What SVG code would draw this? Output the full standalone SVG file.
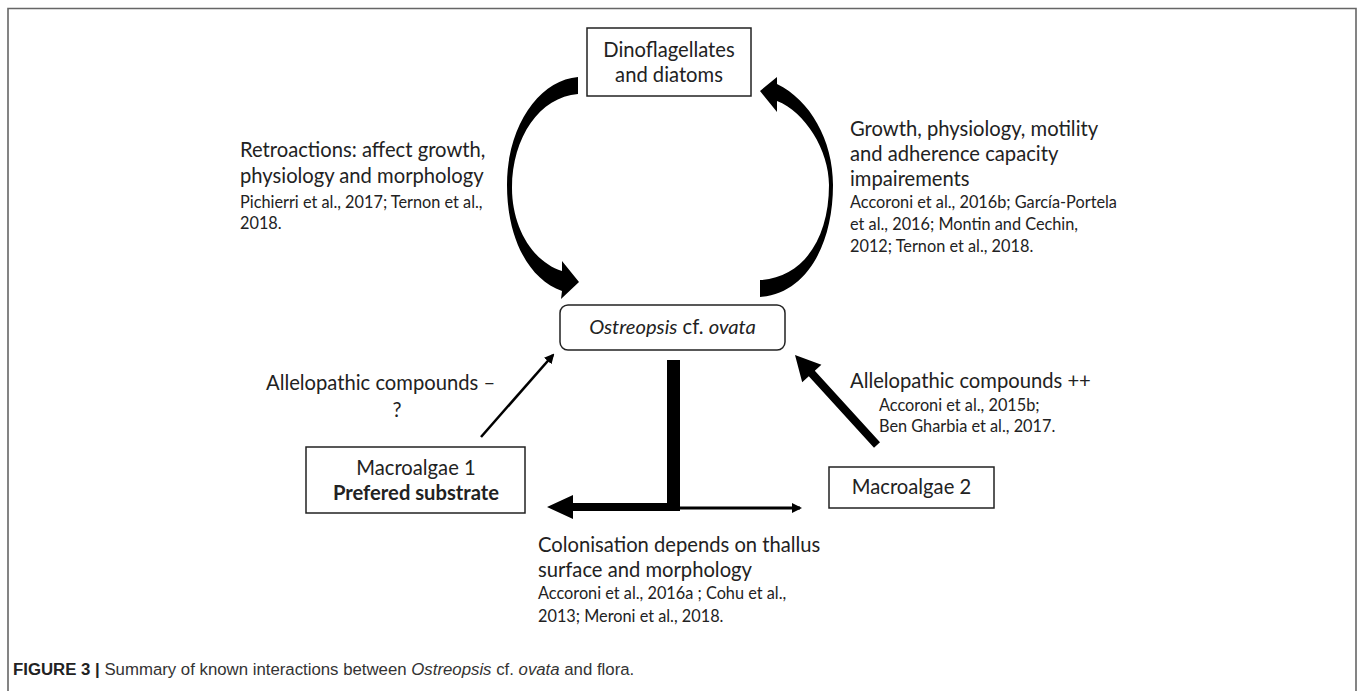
<svg xmlns="http://www.w3.org/2000/svg" width="1358" height="691" viewBox="0 0 1358 691">
<style>
.t{font-family:Lato,"Liberation Sans",sans-serif;font-size:20.2px;fill:#222}
.c{font-family:Lato,"Liberation Sans",sans-serif;font-size:16.3px;fill:#222}
.box{fill:#fff;stroke:#222;stroke-width:1.5}
.cap{font-family:"Liberation Sans",Arial,sans-serif;font-size:16.8px;fill:#333}
.blk{fill:#000;stroke:none}
</style>
<defs>
<marker id="ah" markerWidth="10" markerHeight="10" refX="8" refY="5" orient="auto" markerUnits="userSpaceOnUse" viewBox="0 0 10 10">
<path d="M0,0 L10,5 L0,10 Z" fill="#000"/>
</marker>
</defs>
<rect width="1358" height="691" fill="#fff"/>
<path d="M8,691 L8,8.5 L1356,8.5 L1356,691" fill="none" stroke="#666" stroke-width="1.6"/>

<g id="connectors">
<path class="blk" d="M578,77 C540,80 507,125 507,185 C507,240 530,280 562,291 L561,299 L579,282 L562,261 L562,271 C533,262 512,228 512,188 C512,137 540,97 578,94 Z"/>
<path class="blk" d="M760,297 C806,294 833,245 833,185 C833,140 810,100 777,84 L777,77 L760,91 L777,112 L777,101 C805,112 829,150 829,185 C829,240 802,278 760,280 Z"/>
<line x1="481" y1="437" x2="553" y2="355" stroke="#000" stroke-width="2.5" marker-end="url(#ah)"/>
<polygon class="blk" points="880,442.3 874,447.7 808.8,376.2 802.2,382.2 795,355 821.4,364.8 814.8,370.8"/>
<rect class="blk" x="667" y="360" width="13" height="151"/>
<polygon class="blk" points="680,503 573,503 573,495 547,507 573,519 573,511 680,511"/>
<line x1="680" y1="508" x2="800" y2="508" stroke="#000" stroke-width="3" marker-end="url(#ah)"/>
</g>

<g id="dino">
<rect class="box" x="587" y="28" width="164" height="68"/>
<text class="t" x="669" y="57" text-anchor="middle">Dinoflagellates</text>
<text class="t" x="669" y="82" text-anchor="middle">and diatoms</text>
</g>

<g id="ostreopsis">
<rect class="box" x="560" y="305" width="225" height="45" rx="8"/>
<text class="t" x="672.5" y="334" text-anchor="middle"><tspan font-style="italic">Ostreopsis</tspan> cf. <tspan font-style="italic">ovata</tspan></text>
</g>

<g id="macro1">
<rect class="box" x="306" y="447" width="219" height="66"/>
<text class="t" x="416" y="475" text-anchor="middle">Macroalgae 1</text>
<text class="t" x="416" y="500" text-anchor="middle" font-weight="bold">Prefered substrate</text>
</g>

<g id="macro2">
<rect class="box" x="829" y="467" width="165" height="41"/>
<text class="t" x="911.5" y="494" text-anchor="middle">Macroalgae 2</text>
</g>

<g id="labels">
<text class="t" x="240" y="157">Retroactions: affect growth,</text>
<text class="t" x="240" y="183">physiology and morphology</text>
<text class="c" x="240" y="208">Pichierri et al., 2017; Ternon et al.,</text>
<text class="c" x="240" y="229">2018.</text>

<text class="t" x="850" y="136">Growth, physiology, motility</text>
<text class="t" x="850" y="161">and adherence capacity</text>
<text class="t" x="850" y="186">impairements</text>
<text class="c" x="850" y="208">Accoroni et al., 2016b; García-Portela</text>
<text class="c" x="850" y="230">et al., 2016; Montin and Cechin,</text>
<text class="c" x="850" y="252">2012; Ternon et al., 2018.</text>

<text class="t" x="266" y="390">Allelopathic compounds –</text>
<text class="t" x="397" y="417" text-anchor="middle">?</text>

<text class="t" x="850" y="388">Allelopathic compounds ++</text>
<text class="c" x="879" y="411">Accoroni et al., 2015b;</text>
<text class="c" x="879" y="432">Ben Gharbia et al., 2017.</text>

<text class="t" x="538" y="552">Colonisation depends on thallus</text>
<text class="t" x="538" y="577">surface and morphology</text>
<text class="c" x="538" y="599">Accoroni et al., 2016a ; Cohu et al.,</text>
<text class="c" x="538" y="622">2013; Meroni et al., 2018.</text>
</g>

<text class="cap" x="13" y="675"><tspan font-weight="bold" fill="#222">FIGURE 3 |</tspan> Summary of known interactions between <tspan font-style="italic">Ostreopsis</tspan> cf. <tspan font-style="italic">ovata</tspan> and flora.</text>
</svg>
